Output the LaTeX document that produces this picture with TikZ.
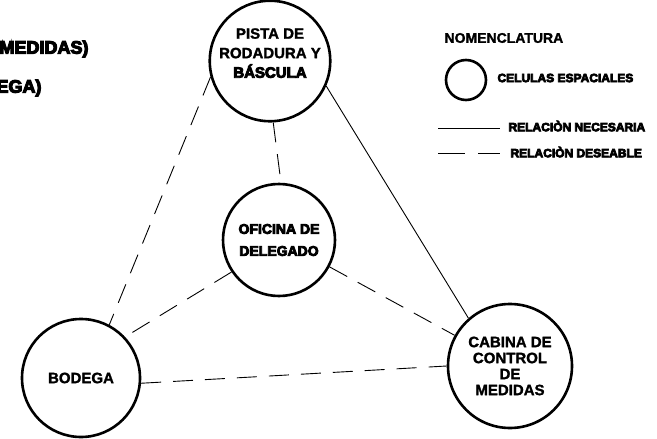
\documentclass[tikz,border=0pt]{standalone}
\usepackage{fontspec}
\setmainfont{Liberation Sans}
\newfontfamily\boldfont[FakeBold=1.5]{Liberation Sans Bold}
\newfontfamily\heavyfont[FakeBold=6]{Liberation Sans Bold}
\tikzset{
  celda/.style={circle, draw, line width=2.6pt, minimum size=#1, inner sep=0pt, align=center,
    font=\fontsize{15}{18}\selectfont\boldfont},
  necesaria/.style={line width=0.9pt},
  deseable/.style={line width=0.9pt, dash pattern=on 20pt off 12pt},
  leyenda/.style={anchor=west, font=\fontsize{12}{14}\selectfont\heavyfont}
}
\begin{document}
\begin{tikzpicture}[x=1pt, y=-1pt]
  \useasboundingbox (0,0) rectangle (657,439);
  % textos cortados a la izquierda
  \node[anchor=east, font=\fontsize{18}{20}\selectfont\heavyfont] (nota1) at (92,49) {MEDIDAS)};
  \node[anchor=east, font=\fontsize{18}{20}\selectfont\heavyfont] (nota2) at (45,88) {DEGA)};
  % celulas espaciales
  \node[celda=118pt, text depth=16pt, font=\fontsize{15}{19.5}\selectfont\boldfont] (pista) at (270,61)
    {PISTA DE\\RODADURA Y\\{\heavyfont BÁSCULA}};
  \node[celda=112pt, font=\fontsize{14}{22}\selectfont\heavyfont] (oficina) at (279,240)
    {OFICINA DE\\DELEGADO};
  \node[celda=118pt] (bodega) at (81,378) {BODEGA};
  \node[celda=124pt, font=\fontsize{15}{16}\selectfont\boldfont] (cabina) at (510,366)
    {CABINA DE\\CONTROL\\DE\\MEDIDAS};
  % relaciones
  \draw[necesaria] (pista.-24) -- (cabina.131);
  \draw[deseable] (pista.195) -- (bodega.62);
  \draw[deseable] (pista.-87) -- (oficina.88);
  \draw[deseable] (oficina.214) -- (bodega.43);
  \draw[deseable] (oficina.-28) -- (cabina.151);
  \draw[deseable] (bodega.-5) -- (cabina.180);
  % nomenclatura
  \node[anchor=west, font=\fontsize{14}{16}\selectfont\boldfont] (titulo) at (441,38) {NOMENCLATURA};
  \node[circle, draw, line width=2.6pt, minimum size=40pt, inner sep=0pt] (muestra) at (466,80) {};
  \node[leyenda] (celulas) at (494,78) {CELULAS ESPACIALES};
  \coordinate (n1) at (438,128);
  \coordinate (n2) at (500,128);
  \draw[necesaria] (n1) -- (n2);
  \node[leyenda] (necesaria) at (505,126) {RELACIÒN NECESARIA};
  \coordinate (d1) at (438,153);
  \coordinate (d2) at (500,153);
  \draw[deseable, dash pattern=on 27pt off 13pt] (d1) -- (d2);
  \node[leyenda] (deseable) at (507,152) {RELACIÒN DESEABLE};
\end{tikzpicture}
\end{document}
